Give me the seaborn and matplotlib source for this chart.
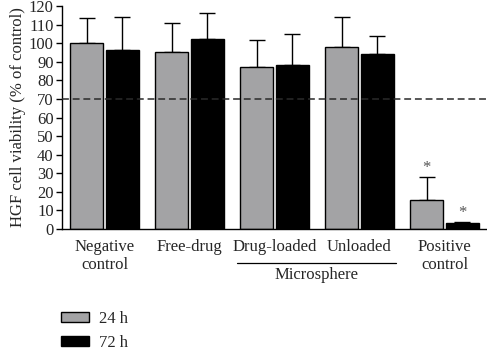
import matplotlib
matplotlib.use("Agg")
import matplotlib.pyplot as plt
import matplotlib.transforms as mtransforms
import seaborn as sns
import pandas as pd

groups = ["Negative\ncontrol", "Free-drug", "Drug-loaded", "Unloaded", "Positive\ncontrol"]
times = ["24 h", "72 h"]
mean_24h = [100, 95, 87, 98, 15.5]
mean_72h = [96.5, 102.5, 88.5, 94, 3]
top_24h = [113.5, 111, 101.5, 114, 28]
top_72h = [114, 116, 105, 104, 3.8]
starred = ["Positive\ncontrol"]
colors = {"24 h": "#a2a2a6", "72 h": "#000000"}

df = pd.DataFrame({
    "group": groups * 2,
    "time": ["24 h"] * len(groups) + ["72 h"] * len(groups),
    "value": mean_24h + mean_72h,
    "top": top_24h + top_72h,
})

sns.set_style("ticks")
plt.rcParams["font.family"] = ["Liberation Serif", "DejaVu Serif"]
fs = 12

fig = plt.figure(figsize=(4.87, 3.51), dpi=100)
ax = fig.add_axes([62 / 487, 1 - 229 / 351, 425 / 487, 223 / 351])

sns.barplot(data=df, x="group", y="value", hue="time", order=groups, hue_order=times,
            palette=colors, width=0.83, gap=0.07, errorbar=None, edgecolor="black",
            linewidth=1.0, ax=ax, legend=True, zorder=2)

for cont, t in zip(ax.containers, times):
    sub = df[df["time"] == t].set_index("group").loc[groups]
    for bar, g in zip(cont, groups):
        xc = bar.get_x() + bar.get_width() / 2
        v = sub.loc[g, "value"]
        tp = sub.loc[g, "top"]
        ax.errorbar([xc], [v], yerr=[[0], [tp - v]], fmt="none", ecolor="black",
                    elinewidth=1.0, capsize=6, capthick=1.0, zorder=1)
        if g in starred:
            ax.annotate("*", (xc, tp), xytext=(0, 1), textcoords="offset points",
                        ha="center", va="bottom", fontsize=12, color="#555555")

ax.axhline(70, color="#2a2a2a", lw=1.1, dashes=(4.5, 2.5), zorder=3)

ax.set_xlim(-0.5, 4.5)
ax.set_ylim(0, 120)
ax.set_yticks(range(0, 121, 10))
ax.set_xlabel("")
ax.set_ylabel("HGF cell viability (% of control)", fontsize=fs, labelpad=2)
ax.tick_params(axis="y", labelsize=fs, length=4, width=1, color="black", pad=2)
ax.tick_params(axis="x", labelsize=fs, length=0, pad=7)
for lab in ax.get_xticklabels():
    lab.set_linespacing(1.2)
for s in ["top", "right"]:
    ax.spines[s].set_visible(False)
for s in ["left", "bottom"]:
    ax.spines[s].set_color("black")
    ax.spines[s].set_linewidth(1.0)

trans = mtransforms.blended_transform_factory(ax.transData, ax.transAxes)
ax.plot([1.56, 3.43], [-0.152, -0.152], color="black", lw=0.9, transform=trans, clip_on=False)
ax.text(2.5, -0.172, "Microsphere", transform=trans, ha="center", va="top", fontsize=fs)

handles, labels = ax.get_legend_handles_labels()
ax.get_legend().remove()
fig.legend(handles, labels, loc="upper left", bbox_to_anchor=(61 / 487, 1 - 311 / 351),
           frameon=False, fontsize=fs, handlelength=1.65, handleheight=0.55,
           handletextpad=0.65, labelspacing=0.5, borderpad=0, borderaxespad=0)

fig.savefig("out.png", dpi=100)
